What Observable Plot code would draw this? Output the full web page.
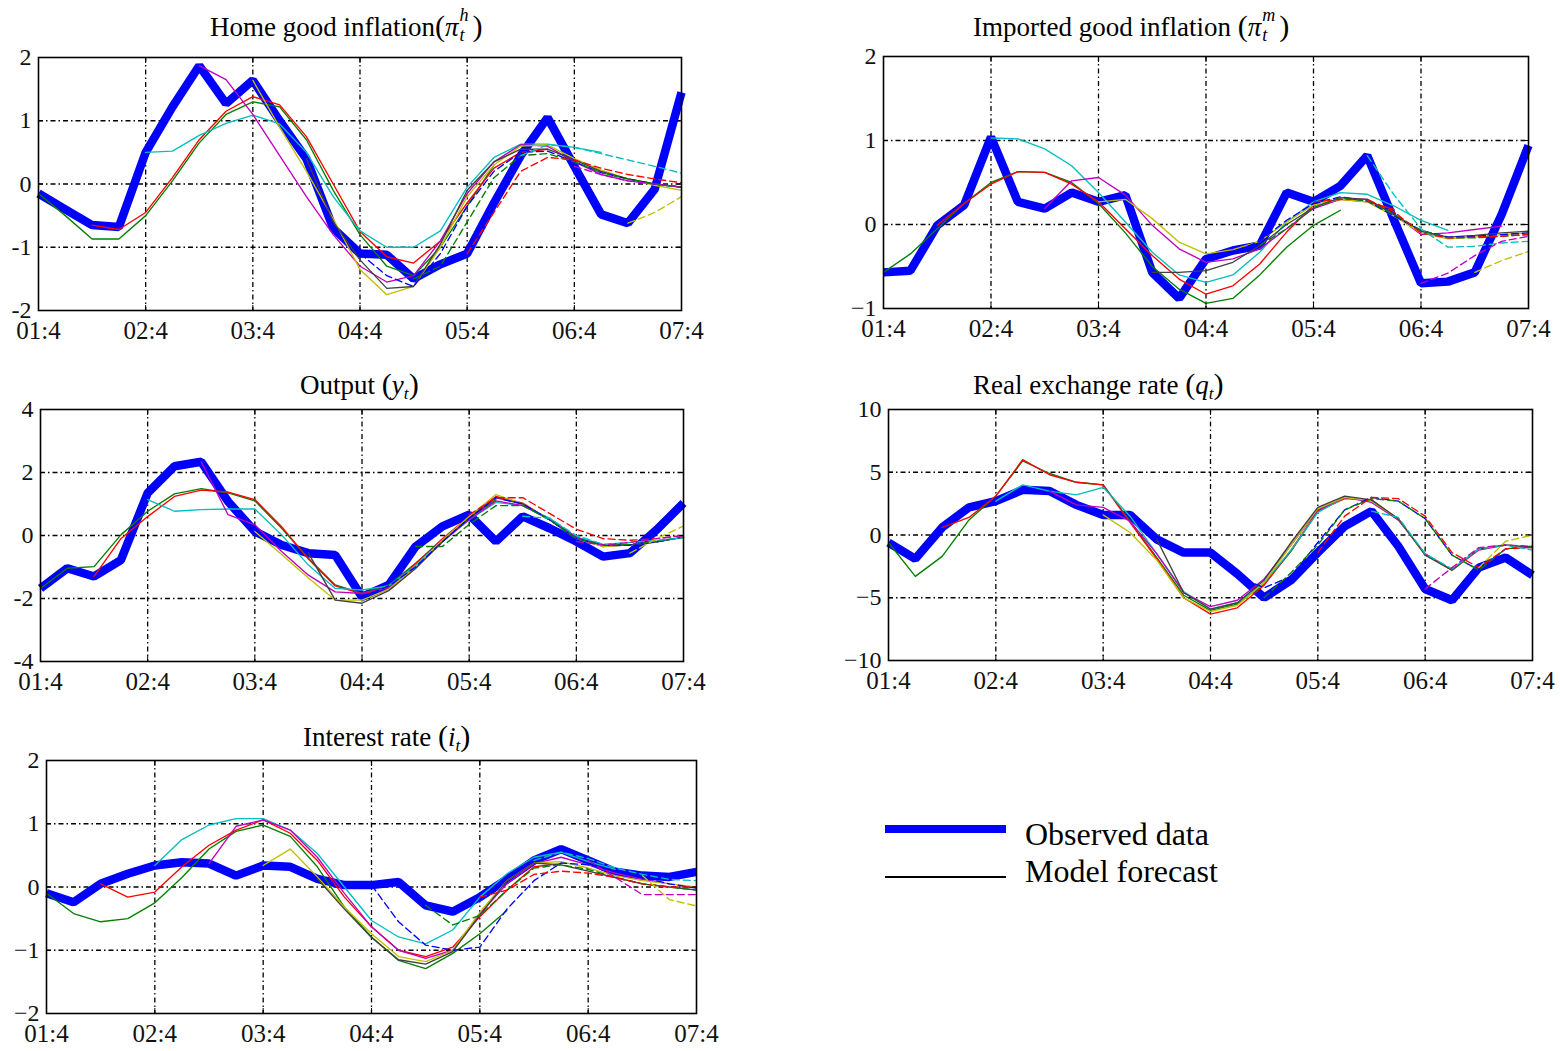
<!DOCTYPE html>
<html>
<head>
<meta charset="utf-8">
<script src="https://cdn.jsdelivr.net/npm/d3@7"></script>
<script src="https://cdn.jsdelivr.net/npm/@observablehq/plot@0.6"></script>
<style>
  body { margin: 0; background: #fff; }
  #root { position: relative; width: 1560px; height: 1051px; overflow: hidden; background: #fff;
          font-family: "Liberation Serif", "DejaVu Serif", serif; color: #000; }
  .title { position: absolute; font-size: 27px; line-height: 27px; white-space: nowrap; }
  .ss { display: inline-block; position: relative; width: 14px; height: 0; vertical-align: baseline; }
  .ss .sup, .ss .sub { position: absolute; left: 1px; font-size: 18px; line-height: 18px; font-style: italic; }
  .ss .sup { top: -30px; }
  .ss .sub { top: -10px; }
  .sb { font-size: 0.64em; vertical-align: -0.3em; line-height: 0; font-style: italic; }
  .paren { font-size: 1.12em; }
  .panel { position: absolute; }
  .legtext { position: absolute; font-size: 32px; line-height: 32px; white-space: nowrap; }
  .swatch { position: absolute; }
</style>
</head>
<body>
<div id="root"></div>
<script>
// ---------------- data ----------------
const quarterLabels = ["01:4", "02:4", "03:4", "04:4", "05:4", "06:4", "07:4"];
const quarterTicks = [0, 4, 8, 12, 16, 20, 24];
// forecast origins (quarter index from 01:4), one forecast every two quarters
const forecastStarts = [0, 2, 4, 6, 8, 10, 12, 14, 16, 18, 20, 22];

// Home good inflation
const homeObserved = [-0.15, -0.4, -0.65, -0.68, 0.5, 1.22, 1.87, 1.27, 1.64, 1.0, 0.4, -0.7, -1.1, -1.12, -1.5, -1.27, -1.1, -0.3, 0.45, 1.05, 0.28, -0.48, -0.62, -0.08, 1.45];
const homeForecasts = [
  [-0.15, -0.5, -0.87, -0.87, -0.5, 0.05, 0.65, 1.1, 1.3, 1.22, 0.7, -0.1, -0.8, -1.3, -1.45, -1.0, -0.35, 0.3],
  [-0.65, -0.72, -0.45, 0.1, 0.7, 1.15, 1.38, 1.25, 0.75, 0.0, -0.75, -1.15, -1.25, -0.9, -0.3, 0.25, 0.5, 0.55],
  [0.5, 0.52, 0.77, 0.96, 1.09, 0.95, 0.5, -0.2, -0.74, -1.0, -1.0, -0.74, -0.05, 0.42, 0.63, 0.63, 0.58, 0.5],
  [1.87, 1.65, 1.1, 0.45, -0.2, -0.8, -1.3, -1.55, -1.45, -0.9, -0.15, 0.35, 0.62, 0.6, 0.35, 0.15, 0.05, 0.0],
  [1.64, 0.9, 0.2, -0.55, -1.35, -1.75, -1.62, -1.0, -0.2, 0.3, 0.6, 0.62, 0.4, 0.22, 0.08, -0.02, -0.1],
  [0.4, -0.6, -1.2, -1.65, -1.62, -0.95, -0.1, 0.35, 0.55, 0.55, 0.38, 0.2, 0.08, 0.0, -0.05],
  [-1.1, -1.45, -1.62, -1.1, -0.35, 0.2, 0.5, 0.52, 0.35, 0.18, 0.08, 0.0, -0.05],
  [-1.5, -1.3, -0.6, 0.1, 0.45, 0.48, 0.35, 0.18, 0.08, 0.0, -0.05],
  [-1.1, -0.45, 0.2, 0.42, 0.38, 0.25, 0.15, 0.08, 0.02],
  [0.45, 0.62, 0.58, 0.48, 0.38, 0.28, 0.17],
  [0.28, 0.15, 0.05, 0.0, -0.05],
  [-0.62, -0.45, -0.2]
];
const homeYTicks = [-2, -1, 0, 1, 2];
const homeYLabels = ["-2", "-1", "0", "1", "2"];

// Imported good inflation
const importObserved = [-0.57, -0.55, -0.01, 0.23, 1.04, 0.27, 0.19, 0.38, 0.27, 0.35, -0.57, -0.88, -0.41, -0.31, -0.25, 0.38, 0.27, 0.46, 0.82, 0.05, -0.7, -0.68, -0.57, 0.12, 0.94];
const importForecasts = [
  [-0.57, -0.35, -0.05, 0.25, 0.5, 0.63, 0.62, 0.5, 0.25, -0.1, -0.5, -0.77, -0.94, -0.88, -0.6, -0.27, -0.01, 0.17],
  [-0.01, 0.25, 0.48, 0.63, 0.62, 0.48, 0.27, -0.05, -0.37, -0.65, -0.83, -0.73, -0.47, -0.09, 0.23, 0.3, 0.27, 0.18],
  [1.03, 1.02, 0.9, 0.7, 0.38, 0.03, -0.33, -0.6, -0.69, -0.6, -0.33, 0.03, 0.27, 0.38, 0.36, 0.22, 0.05, -0.07],
  [0.19, 0.52, 0.56, 0.35, -0.01, -0.29, -0.45, -0.41, -0.29, -0.05, 0.19, 0.3, 0.3, 0.12, -0.12, -0.1, -0.06, -0.02],
  [0.27, 0.3, 0.07, -0.21, -0.35, -0.3, -0.2, 0.03, 0.23, 0.3, 0.27, 0.1, -0.1, -0.17, -0.15, -0.12, -0.1],
  [-0.57, -0.57, -0.55, -0.45, -0.25, 0.0, 0.2, 0.32, 0.3, 0.12, -0.08, -0.15, -0.13, -0.1, -0.08],
  [-0.41, -0.33, -0.2, 0.05, 0.25, 0.33, 0.28, 0.1, -0.07, -0.15, -0.14, -0.12, -0.1],
  [-0.25, -0.05, 0.2, 0.32, 0.28, 0.12, -0.07, -0.16, -0.16, -0.14, -0.12],
  [0.27, 0.3, 0.3, 0.15, -0.1, -0.16, -0.15, -0.14, -0.12],
  [0.82, 0.35, -0.05, -0.27, -0.26, -0.22, -0.2],
  [-0.7, -0.58, -0.37, -0.2, -0.14],
  [-0.57, -0.43, -0.32]
];
const importYTicks = [-1, 0, 1, 2];
const importYLabels = ["\u22121", "0", "1", "2"];

// Output
const outputObserved = [-1.68, -1.04, -1.3, -0.78, 1.35, 2.2, 2.34, 1.08, 0.13, -0.3, -0.56, -0.62, -1.95, -1.57, -0.35, 0.29, 0.66, -0.19, 0.61, 0.23, -0.19, -0.67, -0.56, 0.18, 1.03];
const outputForecasts = [
  [-1.68, -1.04, -0.99, 0.02, 0.77, 1.32, 1.49, 1.35, 1.1, 0.23, -0.72, -1.57, -1.84, -1.57, -0.88, -0.14, 0.55, 1.14],
  [-1.3, -0.1, 0.6, 1.24, 1.44, 1.38, 1.14, 0.28, -0.75, -1.6, -1.85, -1.65, -0.9, -0.1, 0.6, 1.24, 1.03, 0.5],
  [1.14, 0.77, 0.82, 0.84, 0.84, 0.02, -0.94, -1.68, -1.73, -1.6, -0.95, -0.15, 0.5, 1.05, 0.95, 0.55, -0.05, -0.28],
  [2.34, 0.66, 0.34, -0.51, -1.26, -1.79, -1.84, -1.65, -1.0, -0.2, 0.5, 1.1, 0.95, 0.5, -0.05, -0.35, -0.3, -0.2],
  [0.13, -0.6, -1.35, -2.05, -2.05, -1.7, -1.0, -0.15, 0.6, 1.3, 1.0, 0.5, -0.1, -0.35, -0.3, -0.2, -0.05],
  [-0.56, -2.05, -2.15, -1.75, -1.05, -0.2, 0.55, 1.2, 1.0, 0.5, -0.1, -0.3, -0.3, -0.2, -0.05],
  [-1.95, -1.6, -1.0, -0.2, 0.55, 1.2, 1.0, 0.5, -0.1, -0.3, -0.3, -0.2, -0.05],
  [-0.35, -0.35, 0.35, 0.95, 0.95, 0.5, -0.1, -0.3, -0.28, -0.18, -0.05],
  [0.66, 1.2, 1.2, 0.7, 0.2, -0.1, -0.15, -0.1, 0.0],
  [0.61, 0.55, 0.0, -0.28, -0.22, -0.15, -0.08],
  [-0.19, -0.3, -0.22, -0.1, 0.0],
  [-0.56, -0.1, 0.3]
];
const outputYTicks = [-4, -2, 0, 2, 4];
const outputYLabels = ["-4", "-2", "0", "2", "4"];

// Real exchange rate
const exchangeObserved = [-0.6, -1.9, 0.6, 2.2, 2.7, 3.6, 3.5, 2.4, 1.6, 1.6, -0.35, -1.4, -1.4, -3.1, -5.0, -3.6, -1.4, 0.7, 1.9, -0.9, -4.3, -5.2, -2.6, -1.8, -3.2];
const exchangeForecasts = [
  [-0.6, -3.3, -1.7, 1.2, 3.1, 5.9, 4.9, 4.2, 4.0, 1.1, -1.8, -4.8, -6.0, -5.5, -3.9, -1.3, 1.9, 3.0],
  [0.6, 1.4, 3.1, 6.0, 4.8, 4.2, 4.0, 1.0, -1.9, -5.0, -6.3, -5.8, -4.0, -1.2, 1.9, 2.9, 2.8, 1.2],
  [2.7, 4.0, 3.5, 3.2, 3.8, 1.5, -1.5, -4.5, -5.9, -5.4, -3.8, -1.2, 1.8, 3.0, 2.7, 1.2, -1.5, -2.8],
  [3.5, 2.4, 2.2, 1.1, -1.5, -4.6, -5.7, -5.2, -3.5, -0.8, 2.0, 3.0, 2.6, 1.2, -1.5, -2.8, -1.2, -0.8],
  [1.6, 0.2, -2.0, -5.0, -6.1, -5.6, -3.8, -0.8, 2.1, 3.0, 2.7, 1.3, -1.6, -2.8, -1.1, -0.8, -1.0],
  [-0.35, -4.6, -5.9, -5.4, -3.6, -0.6, 2.2, 3.1, 2.8, 1.3, -1.6, -2.8, -1.1, -0.8, -1.0],
  [-1.4, -3.3, -4.2, -3.3, -0.6, 2.0, 3.0, 2.7, 1.3, -1.6, -2.8, -1.1, -0.9],
  [-5.0, -3.0, -0.8, 2.0, 2.9, 2.7, 1.3, -1.6, -2.8, -1.1, -0.9],
  [-1.4, 1.5, 3.0, 2.9, 1.5, -1.4, -2.6, -1.1, -1.0],
  [1.9, 1.4, -1.5, -2.7, -1.1, -0.8, -1.2],
  [-4.3, -2.6, -1.0, -0.8, -0.9],
  [-2.6, -0.5, 0.0]
];
const exchangeYTicks = [-10, -5, 0, 5, 10];
const exchangeYLabels = ["\u221210", "\u22125", "0", "5", "10"];

// Interest rate
const interestObserved = [-0.1, -0.24, 0.05, 0.21, 0.34, 0.39, 0.37, 0.18, 0.34, 0.32, 0.13, 0.03, 0.03, 0.08, -0.29, -0.39, -0.16, 0.12, 0.42, 0.6, 0.42, 0.24, 0.18, 0.16, 0.24];
const interestForecasts = [
  [-0.1, -0.42, -0.55, -0.5, -0.25, 0.15, 0.6, 0.88, 0.98, 0.8, 0.32, -0.32, -0.79, -1.16, -1.29, -1.05, -0.74, -0.37],
  [0.05, -0.16, -0.08, 0.32, 0.66, 0.9, 1.06, 0.85, 0.42, -0.16, -0.63, -1.0, -1.1, -0.95, -0.47, -0.05, 0.32, 0.37],
  [0.34, 0.75, 0.98, 1.08, 1.08, 0.9, 0.53, 0.0, -0.53, -0.79, -0.9, -0.68, -0.16, 0.21, 0.47, 0.55, 0.4, 0.28],
  [0.37, 0.96, 1.06, 0.9, 0.47, -0.1, -0.63, -1.0, -1.13, -1.0, -0.42, 0.05, 0.37, 0.47, 0.35, 0.22, 0.12, 0.05],
  [0.34, 0.6, 0.16, -0.32, -0.74, -1.1, -1.18, -1.0, -0.4, 0.1, 0.38, 0.4, 0.3, 0.18, 0.1, 0.05, 0.0],
  [0.13, -0.35, -0.8, -1.15, -1.22, -1.02, -0.45, 0.1, 0.38, 0.35, 0.25, 0.15, 0.05, 0.0, -0.05],
  [0.03, -0.55, -0.92, -1.0, -0.95, -0.35, 0.1, 0.38, 0.35, 0.25, 0.15, 0.05, -0.02],
  [-0.29, -0.6, -0.45, -0.05, 0.3, 0.35, 0.28, 0.15, 0.05, 0.0, -0.05],
  [-0.16, -0.05, 0.2, 0.25, 0.22, 0.15, 0.05, 0.0, 0.0],
  [0.42, 0.55, 0.45, 0.3, 0.2, 0.12, 0.1],
  [0.42, 0.15, -0.12, -0.12, -0.12],
  [0.18, -0.2, -0.3]
];
const interestYTicks = [-2, -1, 0, 1, 2];
const interestYLabels = ["\u22122", "\u22121", "0", "1", "2"];

const legendLabels = ["Observed data", "Model forecast"];

// ---------------- styles / layout ----------------
// MATLAB default line colour order; the observed series takes the first (blue)
const lineColors = ["#0000ff", "#008000", "#ff0000", "#00bfbf", "#bf00bf", "#bfbf00", "#404040"];
const gridDash = "5,3,1.5,3";
const M = { left: 60, top: 12, right: 40, bottom: 45 };

const panels = [
  { observed: homeObserved, forecasts: homeForecasts, yTicks: homeYTicks, yLabels: homeYLabels,
    box: { left: 38, top: 57, width: 643, height: 253 },
    title: 'Home good inflation<span class="paren">(</span><i>π</i><span class="ss"><span class="sup">h</span><span class="sub">t</span></span><span class="paren">)</span>',
    titlePos: { left: 210, baseline: 36 } },
  { observed: importObserved, forecasts: importForecasts, yTicks: importYTicks, yLabels: importYLabels,
    box: { left: 883, top: 56, width: 645, height: 252 },
    title: 'Imported good inflation <span class="paren">(</span><i>π</i><span class="ss" style="width:18px"><span class="sup">m</span><span class="sub">t</span></span><span class="paren">)</span>',
    titlePos: { left: 973, baseline: 36 } },
  { observed: outputObserved, forecasts: outputForecasts, yTicks: outputYTicks, yLabels: outputYLabels,
    box: { left: 40, top: 409, width: 643, height: 252 },
    title: 'Output <span class="paren">(</span><i>y</i><sub class="sb">t</sub><span class="paren">)</span>',
    titlePos: { left: 300, baseline: 394 } },
  { observed: exchangeObserved, forecasts: exchangeForecasts, yTicks: exchangeYTicks, yLabels: exchangeYLabels,
    box: { left: 888, top: 409, width: 644, height: 251 },
    title: 'Real exchange rate <span class="paren">(</span><i>q</i><sub class="sb">t</sub><span class="paren">)</span>',
    titlePos: { left: 973, baseline: 394 } },
  { observed: interestObserved, forecasts: interestForecasts, yTicks: interestYTicks, yLabels: interestYLabels,
    box: { left: 46, top: 760, width: 650, height: 253 },
    title: 'Interest rate <span class="paren">(</span><i>i</i><sub class="sb">t</sub><span class="paren">)</span>',
    titlePos: { left: 303, baseline: 746 } }
];

const root = document.getElementById("root");

function drawPanel(p) {
  const yDomain = [p.yTicks[0], p.yTicks[p.yTicks.length - 1]];
  const obsRows = p.observed.map((v, t) => ({ t, v }));
  const forecastMarks = p.forecasts.map((vals, i) => {
    const k = i + 1;
    const rows = vals.map((v, j) => ({ t: forecastStarts[i] + j, v }));
    return Plot.line(rows, {
      x: "t", y: "v",
      stroke: lineColors[k % 7],
      strokeWidth: 1.35,
      strokeDasharray: k >= 7 ? "7,4" : undefined,
      strokeLinejoin: "round"
    });
  });
  const inner = quarterTicks.slice(1, -1);
  const innerY = p.yTicks.slice(1, -1);
  const svg = Plot.plot({
    width: p.box.width + M.left + M.right,
    height: p.box.height + M.top + M.bottom,
    marginLeft: M.left, marginRight: M.right, marginTop: M.top, marginBottom: M.bottom,
    style: { fontSize: "25px", fontFamily: "'Liberation Serif', serif", overflow: "visible",
             maxWidth: "none", background: "transparent", color: "#111" },
    x: { domain: [0, 24], axis: null },
    y: { domain: yDomain, axis: null },
    marks: [
      Plot.gridX(inner, { stroke: "#000", strokeOpacity: 1, strokeWidth: 1.3, strokeDasharray: gridDash }),
      Plot.gridY(innerY, { stroke: "#000", strokeOpacity: 1, strokeWidth: 1.3, strokeDasharray: gridDash }),
      Plot.line(obsRows, { x: "t", y: "v", stroke: lineColors[0], strokeWidth: 8.5, strokeLinejoin: "miter", strokeLinecap: "butt" }),
      ...forecastMarks,
      Plot.axisX({ anchor: "bottom", ticks: quarterTicks, tickSize: 0, tickPadding: 11, label: null,
                   tickFormat: d => quarterLabels[quarterTicks.indexOf(d)] }),
      Plot.axisY({ anchor: "left", ticks: p.yTicks, tickSize: 0, tickPadding: 7, label: null, fontSize: 24,
                   tickFormat: d => p.yLabels[p.yTicks.indexOf(d)] }),
      Plot.axisX({ anchor: "bottom", ticks: inner, tickSize: -5, tickFormat: () => "", label: null, stroke: "#000" }),
      Plot.axisX({ anchor: "top", ticks: inner, tickSize: -5, tickFormat: () => "", label: null, stroke: "#000" }),
      Plot.axisY({ anchor: "left", ticks: innerY, tickSize: -5, tickFormat: () => "", label: null, stroke: "#000" }),
      Plot.axisY({ anchor: "right", ticks: innerY, tickSize: -5, tickFormat: () => "", label: null, stroke: "#000" }),
      Plot.frame({ stroke: "#000", strokeWidth: 1.6 })
    ]
  });
  const wrap = document.createElement("div");
  wrap.className = "panel";
  wrap.style.left = (p.box.left - M.left) + "px";
  wrap.style.top = (p.box.top - M.top) + "px";
  wrap.style.width = (p.box.width + M.left + M.right) + "px";
  wrap.appendChild(svg);
  root.appendChild(wrap);

  const t = document.createElement("div");
  t.className = "title";
  t.innerHTML = p.title;
  t.style.left = p.titlePos.left + "px";
  t.style.top = (p.titlePos.baseline - 22.6) + "px";
  root.appendChild(t);
}

panels.forEach(drawPanel);

// legend
const legendItems = [
  { label: legendLabels[0], color: lineColors[0], thick: 8, lineY: 829, baseline: 845 },
  { label: legendLabels[1], color: "#000", thick: 2, lineY: 877, baseline: 882 }
];
legendItems.forEach(it => {
  const sw = document.createElement("div");
  sw.className = "swatch";
  sw.style.left = "885px";
  sw.style.width = "121px";
  sw.style.top = (it.lineY - it.thick / 2) + "px";
  sw.style.height = it.thick + "px";
  sw.style.background = it.color;
  root.appendChild(sw);
  const tx = document.createElement("div");
  tx.className = "legtext";
  tx.textContent = it.label;
  tx.style.left = "1025px";
  tx.style.top = (it.baseline - 26.8) + "px";
  root.appendChild(tx);
});
</script>
</body>
</html>
